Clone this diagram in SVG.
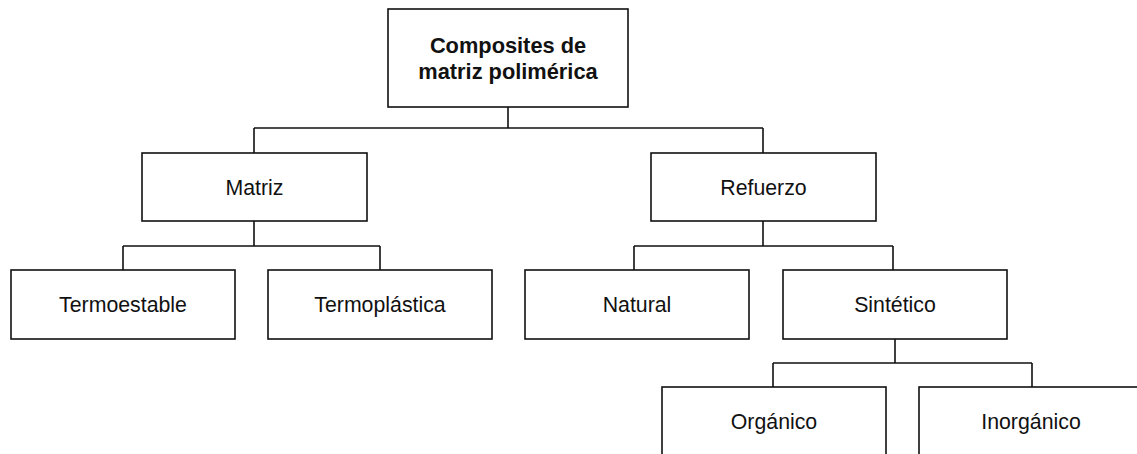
<svg xmlns="http://www.w3.org/2000/svg" width="1137" height="454" viewBox="0 0 1137 454">
<style>
.box{fill:#fff;stroke:#111;stroke-width:1.6}
.ln{fill:none;stroke:#111;stroke-width:1.6}
.t{font-family:"Liberation Sans",Arial,sans-serif;font-size:21.3px;fill:#111;text-anchor:middle}
.b{font-weight:bold;font-size:21.8px}
</style>
<rect width="1137" height="454" fill="#fff"/>
<g id="connectors">
<path class="ln" d="M508 107V128M254 128H763M254 128V153M763 128V153"/>
<path class="ln" d="M254 221V246M123 246H380M123 246V270M380 246V270"/>
<path class="ln" d="M763 221V246M634 246H893M634 246V270M893 246V270"/>
<path class="ln" d="M895 339V363M773 363H1032M773 363V387M1032 363V387"/>
</g>
<g id="root"><rect class="box" x="388" y="9" width="240" height="98"/><text class="t b" x="508" y="53">Composites de</text><text class="t b" x="508" y="79">matriz polimérica</text></g>
<g id="matriz"><rect class="box" x="142" y="153" width="225" height="68"/><text class="t" x="254.5" y="195">Matriz</text></g>
<g id="refuerzo"><rect class="box" x="651" y="153" width="225" height="68"/><text class="t" x="763.5" y="195">Refuerzo</text></g>
<g id="termoestable"><rect class="box" x="11" y="270" width="224" height="69"/><text class="t" x="123" y="312">Termoestable</text></g>
<g id="termoplastica"><rect class="box" x="268" y="270" width="224" height="69"/><text class="t" x="380" y="312">Termoplástica</text></g>
<g id="natural"><rect class="box" x="525" y="270" width="224" height="69"/><text class="t" x="637" y="312">Natural</text></g>
<g id="sintetico"><rect class="box" x="783" y="270" width="224" height="69"/><text class="t" x="895" y="312">Sintético</text></g>
<g id="organico"><rect class="box" x="662" y="387" width="224" height="69"/><text class="t" x="774" y="429">Orgánico</text></g>
<g id="inorganico"><rect class="box" x="919" y="387" width="224" height="69"/><text class="t" x="1031" y="429">Inorgánico</text></g>
</svg>
